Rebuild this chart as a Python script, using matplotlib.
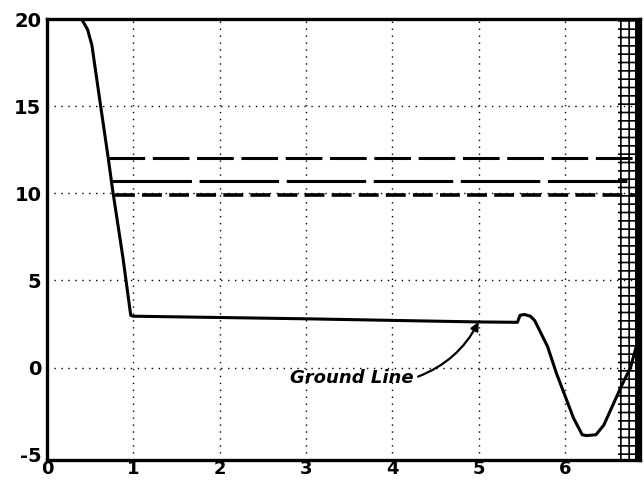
import numpy as np
import matplotlib.pyplot as plt

# ground profile
ground_x = [0.40, 0.47, 0.52, 0.61, 0.71, 0.76, 0.88, 0.97, 1.00, 3.00, 5.00, 5.45,
            5.48, 5.53, 5.60, 5.65, 5.80, 5.90, 6.00, 6.10, 6.20, 6.25, 6.36, 6.45,
            6.56, 6.66, 6.76, 6.87]
ground_y = [20.0, 19.4, 18.5, 15.4, 12.0, 10.2, 6.3, 3.0, 2.95, 2.8, 2.62, 2.6,
            3.0, 3.05, 2.95, 2.7, 1.2, -0.3, -1.6, -2.9, -3.85, -3.9, -3.85, -3.3,
            -2.1, -1.0, 0.0, 2.0]

# horizontal levels: start x, level
level_start = [0.71, 0.75, 0.79]
level_value = [12.0, 10.7, 9.9]
level_style = [(0, (12, 2.5)), (0, (26, 2.5)), (0, (5.5, 2))]
level_width = [2.2, 2.2, 2.6]

x_ticks = [0, 1, 2, 3, 4, 5, 6]
y_ticks = [-5, 0, 5, 10, 15, 20]
x_max = 6.87

plt.rcParams['hatch.linewidth'] = 1.2

fig = plt.figure(figsize=(6.44, 4.8), dpi=100)
ax = fig.add_axes([47 / 644, 20 / 480, (640 - 47) / 644, (460 - 19) / 480])

ax.set_xlim(0, x_max)
ax.set_ylim(-5.3, 20)

# dotted grid
for gx in x_ticks[1:]:
    ax.axvline(gx, color='black', lw=1.0, ls=(0, (1, 4)), zorder=1)
for gy in y_ticks[1:-1]:
    ax.axhline(gy, color='black', lw=1.0, ls=(0, (1, 4)), zorder=1)

# halftone band on the right edge of the scan
ax.axvspan(6.62, x_max, facecolor='none', edgecolor='black', hatch='++', lw=0, zorder=1)
ax.axvspan(6.81, x_max, facecolor='black', lw=0, zorder=1)

for xs, v, st, w in zip(level_start, level_value, level_style, level_width):
    ax.plot([xs, x_max], [v, v], color='black', lw=w, ls=st, solid_capstyle='butt', zorder=3)

ax.plot(ground_x, ground_y, color='black', lw=2.2, solid_joinstyle='round', zorder=4)

ax.annotate('Ground Line', xy=(5.0, 2.62), xytext=(2.82, -0.6),
            fontsize=13, fontstyle='italic', fontweight='bold', ha='left', va='center',
            arrowprops=dict(arrowstyle='-|>', color='black', lw=1.6, relpos=(1.0, 0.5),
                            connectionstyle='arc3,rad=0.2', shrinkA=1, shrinkB=0,
                            mutation_scale=12))

ax.set_xticks(x_ticks)
ax.set_yticks(y_ticks)
ax.set_xticklabels([str(t) for t in x_ticks], fontsize=13, fontweight='bold')
ax.set_yticklabels([str(t) for t in y_ticks], fontsize=14, fontweight='bold')
ax.tick_params(axis='x', length=0, pad=0)
ax.tick_params(axis='y', length=0, pad=4)

for s in ax.spines.values():
    s.set_linewidth(2.4)

plt.savefig('out.png', dpi=100)
